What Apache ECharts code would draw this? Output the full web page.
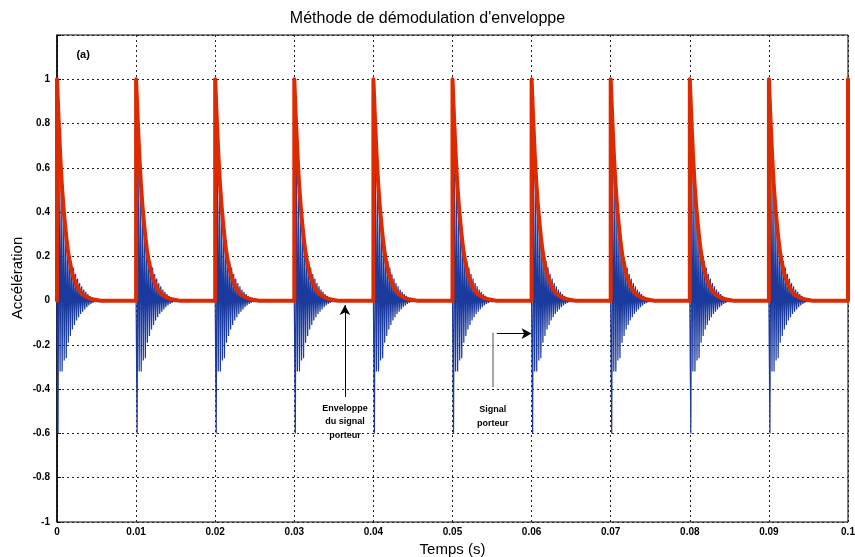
<!DOCTYPE html>
<html><head><meta charset="utf-8">
<script src="https://cdn.jsdelivr.net/npm/echarts@6/dist/echarts.min.js"></script>
<style>html,body{margin:0;padding:0;background:#fff}#c{width:855px;height:557px}</style>
</head><body><div id="c"></div>
<script>
// Pulse onset times (s)
const pulseOnsets = [0, 0.01, 0.02, 0.03, 0.04, 0.05, 0.06, 0.07, 0.08, 0.09];
const tEnd = 0.1;
// Envelope shape after each onset: offset (s) and value
const envOffsets = [0, 0.0002, 0.0004, 0.0006, 0.0008, 0.001, 0.0012, 0.0014, 0.0016, 0.0018, 0.002, 0.0024, 0.0028, 0.0032, 0.0036, 0.004, 0.0045, 0.005, 0.0055];
const envValues  = [1, 0.82, 0.66, 0.53, 0.43, 0.35, 0.28, 0.22, 0.18, 0.145, 0.115, 0.075, 0.048, 0.03, 0.02, 0.012, 0.006, 0.003, 0];
// Carrier peaks after each onset (alternating), sampled every carrierStep s
const carrierStep = 0.00013;
const carrierPeaks = [0, -0.6, 0.62, -0.32, 0.5, -0.32, 0.4, -0.27, 0.33, -0.26, 0.27, -0.19, 0.22, -0.16, 0.18, -0.13, 0.15, -0.11, 0.12, -0.09, 0.1, -0.075, 0.08, -0.06, 0.065, -0.05, 0.05, -0.04, 0.04, -0.03, 0.03, -0.022, 0.022, -0.015, 0.015, -0.01, 0.01, -0.005, 0];
// Axis ticks
const xTicks = ['0','0.01','0.02','0.03','0.04','0.05','0.06','0.07','0.08','0.09','0.1'];
const yTicks = ['-1','-0.8','-0.6','-0.4','-0.2','0','0.2','0.4','0.6','0.8','1'];

const envData = [];
const carData = [];
pulseOnsets.forEach(t0 => {
  envData.push([t0, 0]);
  envOffsets.forEach((o, i) => envData.push([t0 + o, envValues[i]]));
  carrierPeaks.forEach((v, i) => carData.push([t0 + i * carrierStep, v]));
});
envData.push([tEnd, 0], [tEnd, 1]);
carData.push([tEnd, 0]);

const font = 'Liberation Sans, Arial, sans-serif';
const chart = echarts.init(document.getElementById('c'), null, {renderer: 'canvas'});
const grid = {left: 57, right: 7, top: 35, bottom: 35, show: true, borderColor: '#000', borderWidth: 1, backgroundColor: '#fff', containLabel: false, outerBoundsMode: 'none'};
const split = {show: true, lineStyle: {color: '#222', type: [2, 3], width: 1}};
chart.setOption({
  animation: false,
  backgroundColor: '#fff',
  title: {text: 'Méthode de démodulation d\'enveloppe', left: 'center', top: 6,
    textStyle: {fontFamily: font, fontWeight: 'normal', fontSize: 16, color: '#000'}},
  grid: grid,
  xAxis: {type: 'value', min: 0, max: 0.1, interval: 0.01,
    name: 'Temps (s)', nameLocation: 'middle', nameGap: 18,
    nameTextStyle: {fontFamily: font, fontSize: 15, color: '#000'},
    axisLine: {show: true, lineStyle: {color: '#000', width: 1.5}},
    axisTick: {show: true, inside: true, length: 4, lineStyle: {color: '#000'}},
    axisLabel: {fontFamily: font, fontWeight: 'bold', fontSize: 10, color: '#000', margin: 5,
      formatter: (v) => { const i = Math.round(v / 0.01); return xTicks[i] !== undefined ? xTicks[i] : ''; }},
    splitLine: split},
  yAxis: {type: 'value', min: -1, max: 1.2, interval: 0.2,
    axisLine: {show: true, lineStyle: {color: '#000', width: 1.5}},
    axisTick: {show: true, inside: true, length: 4, lineStyle: {color: '#000'}},
    axisLabel: {fontFamily: font, fontWeight: 'bold', fontSize: 10, color: '#000', margin: 7,
      formatter: (v) => { const i = Math.round((v + 1) / 0.2); return yTicks[i] !== undefined ? yTicks[i] : ''; }},
    splitLine: split},
  graphic: [
    {type: 'text', x: 18, y: 278, rotation: Math.PI / 2,
      style: {text: 'Accélération', font: '15px ' + font, fill: '#000', textAlign: 'center', textVerticalAlign: 'middle'}}
  ],
  series: [
    {type: 'line', data: carData, showSymbol: false, symbol: 'none', silent: true,
      lineStyle: {color: '#1b3a9e', width: 1.2}, z: 2},
    {type: 'line', data: envData, showSymbol: false, symbol: 'none', silent: true,
      lineStyle: {color: '#dd2a00', width: 4, join: 'round', cap: 'round'}, z: 3},
    {type: 'line', data: [], silent: true, z: 4,
      markLine: {silent: true, symbol: ['none', 'arrow'], symbolSize: [8, 10], label: {show: false},
        lineStyle: {color: '#000', width: 1, type: 'solid'},
        data: [
          [{coord: [0.0364, -0.435]}, {coord: [0.0364, -0.02]}],
          [{coord: [0.0556, -0.149]}, {coord: [0.0600, -0.149]}]
        ]}},
    {type: 'line', data: [], silent: true, z: 4,
      markLine: {silent: true, symbol: ['none', 'none'], label: {show: false},
        lineStyle: {color: '#888', width: 1.5, type: 'solid'},
        data: [[{coord: [0.0551, -0.145]}, {coord: [0.0551, -0.39]}]]}}
  ]
});
const p1 = chart.convertToPixel({gridIndex: 0}, [0.0364, -0.455]);
const p2 = chart.convertToPixel({gridIndex: 0}, [0.0551, -0.462]);
const pa = chart.convertToPixel({gridIndex: 0}, [0.0033, 1.11]);
chart.setOption({graphic: [
  {type: 'text', x: 18, y: 278, rotation: Math.PI / 2,
    style: {text: 'Accélération', font: '15px ' + font, fill: '#000', textAlign: 'center', textVerticalAlign: 'middle'}},
  {type: 'text', x: pa[0], y: pa[1], style: {text: '(a)', font: 'bold 11px ' + font, fill: '#000', textAlign: 'center', textVerticalAlign: 'middle'}},
  {type: 'text', x: p1[0], y: p1[1], style: {text: 'Enveloppe\ndu signal\nporteur', font: 'bold 9px ' + font, lineHeight: 13.5, fill: '#000', textAlign: 'center', textVerticalAlign: 'top'}},
  {type: 'text', x: p2[0], y: p2[1], style: {text: 'Signal\nporteur', font: 'bold 9px ' + font, lineHeight: 13.5, fill: '#000', textAlign: 'center', textVerticalAlign: 'top'}}
]});
</script></body></html>
